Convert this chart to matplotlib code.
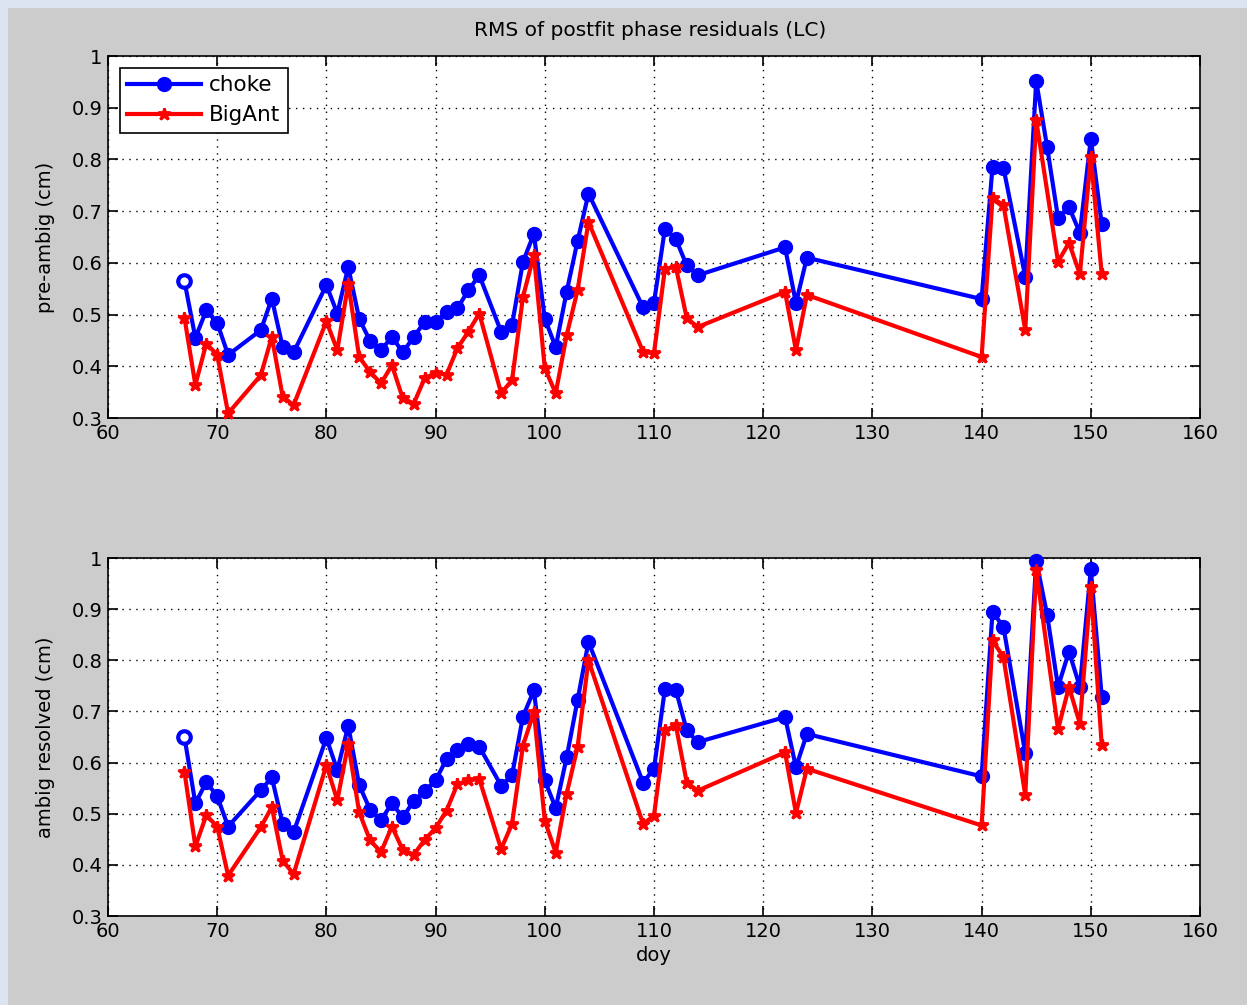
import numpy as np
import matplotlib
matplotlib.use("Agg")
import matplotlib.pyplot as plt
from matplotlib.patches import Rectangle

# day of year for each series (BigAnt has no point at day 146)
days_choke = [67, 68, 69, 70, 71, 74, 75, 76, 77, 80, 81, 82, 83, 84, 85, 86, 87, 88, 89, 90,
              91, 92, 93, 94, 96, 97, 98, 99, 100, 101, 102, 103, 104, 109, 110, 111, 112, 113,
              114, 122, 123, 124, 140, 141, 142, 144, 145, 146, 147, 148, 149, 150, 151]
days_bigant = [67, 68, 69, 70, 71, 74, 75, 76, 77, 80, 81, 82, 83, 84, 85, 86, 87, 88, 89, 90,
               91, 92, 93, 94, 96, 97, 98, 99, 100, 101, 102, 103, 104, 109, 110, 111, 112, 113,
               114, 122, 123, 124, 140, 141, 142, 144, 145, 147, 148, 149, 150, 151]

pre_choke = [0.565, 0.455, 0.508, 0.484, 0.422, 0.470, 0.531, 0.437, 0.427, 0.557, 0.502, 0.592,
             0.492, 0.449, 0.431, 0.457, 0.427, 0.457, 0.486, 0.486, 0.505, 0.512, 0.547, 0.576,
             0.467, 0.480, 0.602, 0.656, 0.492, 0.437, 0.544, 0.642, 0.734, 0.514, 0.523, 0.666,
             0.646, 0.595, 0.576, 0.630, 0.522, 0.610, 0.530, 0.786, 0.784, 0.573, 0.952, 0.824,
             0.687, 0.708, 0.658, 0.840, 0.675]
pre_bigant = [0.494, 0.364, 0.444, 0.422, 0.309, 0.383, 0.457, 0.341, 0.325, 0.487, 0.431, 0.560,
              0.418, 0.389, 0.367, 0.402, 0.338, 0.328, 0.377, 0.387, 0.384, 0.435, 0.467, 0.502,
              0.348, 0.373, 0.534, 0.615, 0.396, 0.348, 0.460, 0.547, 0.679, 0.428, 0.425, 0.589,
              0.592, 0.493, 0.476, 0.544, 0.431, 0.538, 0.418, 0.725, 0.712, 0.470, 0.876,
              0.602, 0.639, 0.578, 0.805, 0.578]

res_choke = [0.650, 0.520, 0.562, 0.534, 0.475, 0.546, 0.571, 0.480, 0.464, 0.648, 0.585, 0.672,
             0.556, 0.508, 0.488, 0.520, 0.493, 0.525, 0.544, 0.565, 0.607, 0.624, 0.637, 0.631,
             0.555, 0.575, 0.690, 0.741, 0.565, 0.511, 0.610, 0.722, 0.836, 0.561, 0.588, 0.744,
             0.742, 0.663, 0.640, 0.689, 0.591, 0.656, 0.573, 0.895, 0.865, 0.618, 0.995, 0.889,
             0.748, 0.817, 0.748, 0.978, 0.729]
res_bigant = [0.582, 0.436, 0.497, 0.475, 0.379, 0.474, 0.513, 0.408, 0.382, 0.595, 0.526, 0.637,
              0.503, 0.448, 0.425, 0.475, 0.429, 0.420, 0.449, 0.472, 0.506, 0.558, 0.565, 0.568,
              0.431, 0.480, 0.633, 0.699, 0.486, 0.424, 0.539, 0.630, 0.800, 0.480, 0.496, 0.663,
              0.673, 0.561, 0.545, 0.620, 0.501, 0.588, 0.477, 0.839, 0.806, 0.536, 0.976,
              0.665, 0.748, 0.676, 0.944, 0.634]

xticks = [60, 70, 80, 90, 100, 110, 120, 130, 140, 150, 160]
yticks = [0.3, 0.4, 0.5, 0.6, 0.7, 0.8, 0.9, 1.0]
ytick_labels = ['0.3', '0.4', '0.5', '0.6', '0.7', '0.8', '0.9', '1']

FS = 14
W, H = 1247, 1005

fig = plt.figure(figsize=(W / 100, H / 100), dpi=100)
fig.patch.set_facecolor('#dbe4f0')
fig.patches.append(Rectangle((8 / W, 0), 1 - 8 / W, 1 - 8 / H, transform=fig.transFigure,
                             facecolor='#cccccc', edgecolor='none', zorder=-10))


def style_axes(ax, ylabel):
    ax.set_xlim(60, 160)
    ax.set_ylim(0.3, 1.0)
    ax.set_xticks(xticks)
    ax.set_xticklabels([str(v) for v in xticks])
    ax.set_yticks(yticks)
    ax.set_yticklabels(ytick_labels)
    ax.tick_params(direction='in', length=7, width=1.2, top=True, right=True,
                   labelsize=FS, colors='black', pad=4)
    ax.grid(True, linestyle=(0, (1, 4)), color='black', linewidth=1.0)
    for sp in ax.spines.values():
        sp.set_linewidth(1.2)
    ax.set_ylabel(ylabel, fontsize=FS, labelpad=12)


def draw(ax, yc, yb):
    ax.plot(days_choke, yc, '-o', color='#0000ff', lw=3, ms=10, clip_on=False, zorder=3,
            label='choke')
    # first choke marker is drawn hollow in the original
    ax.plot(days_choke[:1], yc[:1], 'o', color='#0000ff', mfc='white', mew=3, ms=9,
            clip_on=False, zorder=3)
    ax.plot(days_bigant, yb, '-*', color='#ff0000', lw=3, ms=9, mew=2, clip_on=False,
            zorder=4, label='BigAnt')


ax1 = fig.add_axes([108 / W, 1 - 418 / H, 1092 / W, 362 / H])
draw(ax1, pre_choke, pre_bigant)
style_axes(ax1, 'pre-ambig (cm)')
leg = ax1.legend(loc='upper left', fontsize=15.5, fancybox=False, framealpha=1,
                 edgecolor='black', borderaxespad=0.55, handlelength=3.4,
                 handletextpad=0.4, borderpad=0.35, labelspacing=0.45)
leg.get_frame().set_linewidth(1.2)

ax2 = fig.add_axes([108 / W, 1 - 916 / H, 1092 / W, 358 / H])
draw(ax2, res_choke, res_bigant)
style_axes(ax2, 'ambig resolved (cm)')
ax2.set_xlabel('doy', fontsize=FS, labelpad=4)

fig.text(650 / W, 1 - 31 / H, 'RMS of postfit phase residuals (LC)', fontsize=14.5,
         ha='center', va='center')

fig.savefig('out.png', dpi=100, facecolor=fig.get_facecolor())
